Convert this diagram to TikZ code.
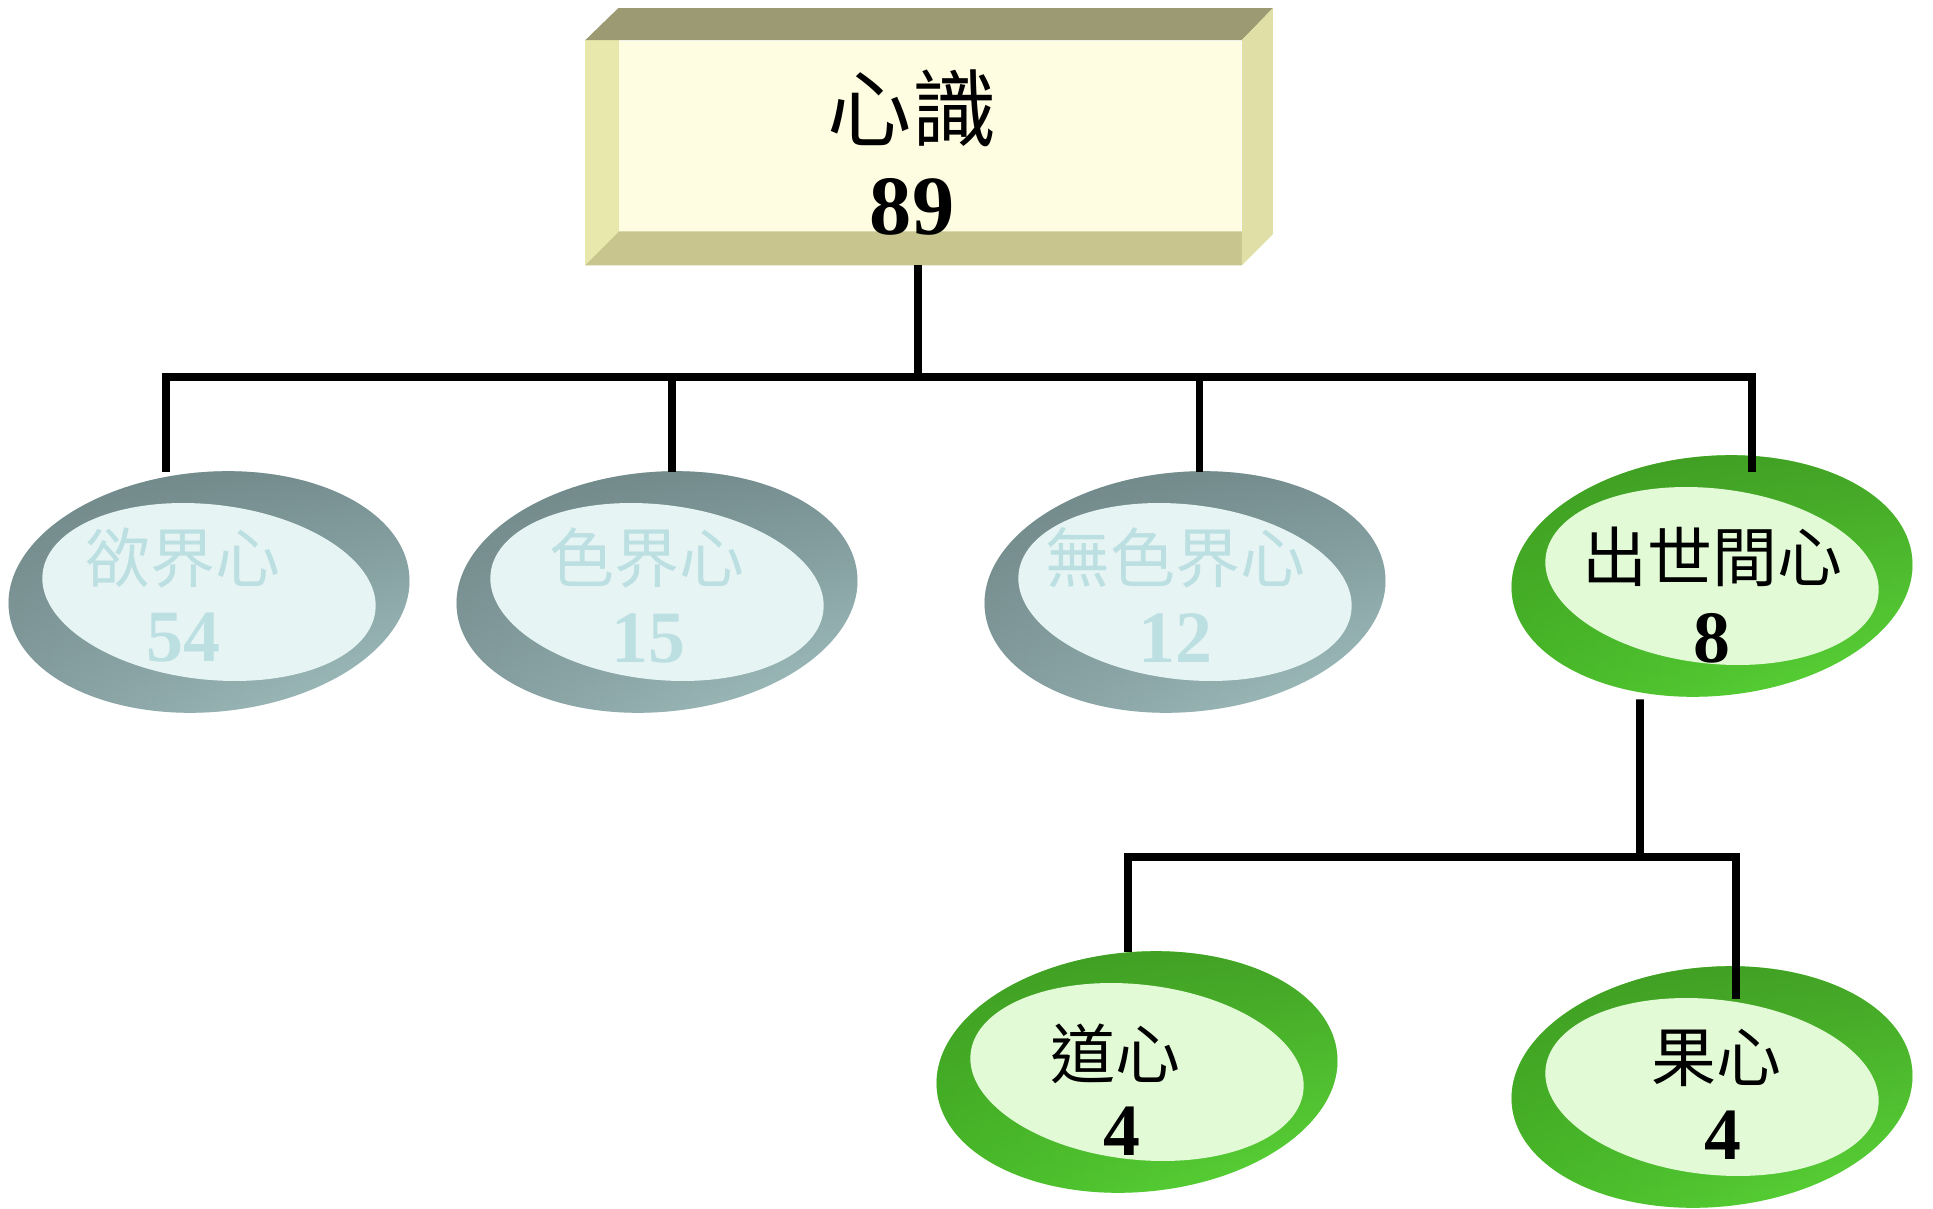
\documentclass[tikz,border=0pt]{standalone}
\usepackage{fontspec}
\setmainfont{Liberation Serif}
\newfontfamily\cjk{Noto Sans CJK TC}
\usepackage{tikz}
\usetikzlibrary{shapes.geometric, positioning, calc, fadings}

\definecolor{boxtop}{HTML}{9B9A72}
\definecolor{boxside}{HTML}{E0DFA6}
\definecolor{boxfront}{HTML}{FFFDE1}
\definecolor{boxleft}{HTML}{E9E8AC}
\definecolor{boxbottom}{HTML}{C9C58F}
\definecolor{greytop}{HTML}{6A8081}
\definecolor{greyleft}{HTML}{8BA4A5}
\definecolor{greyright}{HTML}{B2D3D4}
\definecolor{greyin}{HTML}{E6F4F4}
\definecolor{greytxt}{HTML}{BCDFE2}
\definecolor{greentop}{HTML}{3C9420}
\definecolor{greenleft}{HTML}{4BC12B}
\definecolor{greenright}{HTML}{64E840}
\definecolor{greenin}{HTML}{E2FAD6}

\tikzfading[name=topdark, top color=transparent!0, middle color=transparent!100, bottom color=transparent!100]

\begin{document}
\begin{tikzpicture}[
    x=0.02cm, y=-0.02cm,
    tree/.style={line width=4.3pt, black, line join=miter},
    frontface/.style={rectangle, fill=boxfront, minimum width=13.12cm, minimum height=4.49cm, inner sep=0pt},
    ringgrey/.style={ellipse, minimum width=8.04cm, minimum height=4.8cm, inner sep=0pt, rotate=5,
        left color=greyleft, right color=greyright,
        path picture={\fill[greytop, path fading=topdark] ([shift={(-40,-30)}]path picture bounding box.north west) rectangle ([shift={(40,30)}]path picture bounding box.south east);}},
    ringgreen/.style={ellipse, minimum width=8.04cm, minimum height=4.8cm, inner sep=0pt, rotate=5,
        left color=greenleft, right color=greenright,
        path picture={\fill[greentop, path fading=topdark] ([shift={(-40,-30)}]path picture bounding box.north west) rectangle ([shift={(40,30)}]path picture bounding box.south east);}},
    innergrey/.style={ellipse, minimum width=6.7cm, minimum height=3.5cm, inner sep=0pt, rotate=-6.5, fill=greyin},
    innergreen/.style={innergrey, fill=greenin},
    toplbl/.style={font={\cjk\fontsize{48pt}{52pt}\selectfont}, inner sep=0pt},
    topnum/.style={font=\bfseries\fontsize{48pt}{52pt}\selectfont, inner sep=0pt},
    lbl/.style={font={\cjk\fontsize{37pt}{40pt}\selectfont}, inner sep=0pt},
    num/.style={font=\bfseries\fontsize{42pt}{44pt}\selectfont, inner sep=0pt},
    greylbl/.style={lbl, text=greytxt},
    greynum/.style={num, text=greytxt}
]
    \useasboundingbox (0,0) rectangle (1933,1209);

    % 3D box on top
    \node[frontface] (root) at (913.5,152.8) {};
    \fill[boxleft] (root.north west) rectangle ([shift={(34,0)}]root.south west);
    \fill[boxbottom] (root.south west) -- ([shift={(34,-34)}]root.south west)
        -- ([shift={(0,-34)}]root.south east) -- (root.south east) -- cycle;
    \fill[boxtop] (root.north west) -- ([shift={(33,-32)}]root.north west)
        -- ([shift={(31,-32)}]root.north east) -- (root.north east) -- cycle;
    \fill[boxside] (root.north east) -- ([shift={(31,-32)}]root.north east)
        -- ([shift={(31,-31)}]root.south east) -- (root.south east) -- cycle;
    \node[toplbl] (rootTxt) at (912,108.5) {心識};
    \node[topnum] (rootNum) at (912,207) {89};

    % first level
    \node[ringgrey]   (kama)     at (209,592) {};
    \node[innergrey]  (kamaIn)   at (209,592) {};
    \node[greylbl]    (kamaTxt)  at (183,558) {欲界心};
    \node[greynum]    (kamaNum)  at (183,638) {54};

    \node[ringgrey]   (rupa)     at (657,592) {};
    \node[innergrey]  (rupaIn)   at (657,592) {};
    \node[greylbl]    (rupaTxt)  at (647,558) {色界心};
    \node[greynum]    (rupaNum)  at (648,638) {15};

    \node[ringgrey]   (arupa)    at (1185,592) {};
    \node[innergrey]  (arupaIn)  at (1185,592) {};
    \node[greylbl]    (arupaTxt) at (1175,558) {無色界心};
    \node[greynum]    (arupaNum) at (1175,638) {12};

    \node[ringgreen]  (lok)      at (1712,576) {};
    \node[innergreen] (lokIn)    at (1712,576) {};
    \node[lbl]        (lokTxt)   at (1712,557) {出世間心};
    \node[num]        (lokNum)   at (1712,638) {8};

    % second level
    \node[ringgreen]  (magga)    at (1137,1072) {};
    \node[innergreen] (maggaIn)  at (1137,1072) {};
    \node[lbl]        (maggaTxt) at (1115,1054) {道心};
    \node[num]        (maggaNum) at (1122,1131) {4};

    \node[ringgreen]  (phala)    at (1712,1087) {};
    \node[innergreen] (phalaIn)  at (1712,1087) {};
    \node[lbl]        (phalaTxt) at (1716,1058) {果心};
    \node[num]        (phalaNum) at (1723,1135) {4};

    % tree lines
    \coordinate (hub)  at (918,377);
    \coordinate (hub2) at (1640,857);
    \draw[tree] (root.south -| hub) -- (hub);
    \draw[tree] (hub) -| ([shift={(-32.5,0)}]kama.north);
    \draw[tree] (hub) -| ([shift={(25.5,0)}]rupa.north);
    \draw[tree] (hub) -| ([shift={(25,0)}]arupa.north);
    \draw[tree] (hub) -| ([shift={(50.5,15.5)}]lok.north);
    \draw[tree] ([shift={(-82.5,3.5)}]lok.south) -- (hub2);
    \draw[tree] (hub2) -| ([shift={(1.5,0)}]magga.north);
    \draw[tree] (hub2) -| ([shift={(34.5,31.5)}]phala.north);

\end{tikzpicture}
\end{document}
